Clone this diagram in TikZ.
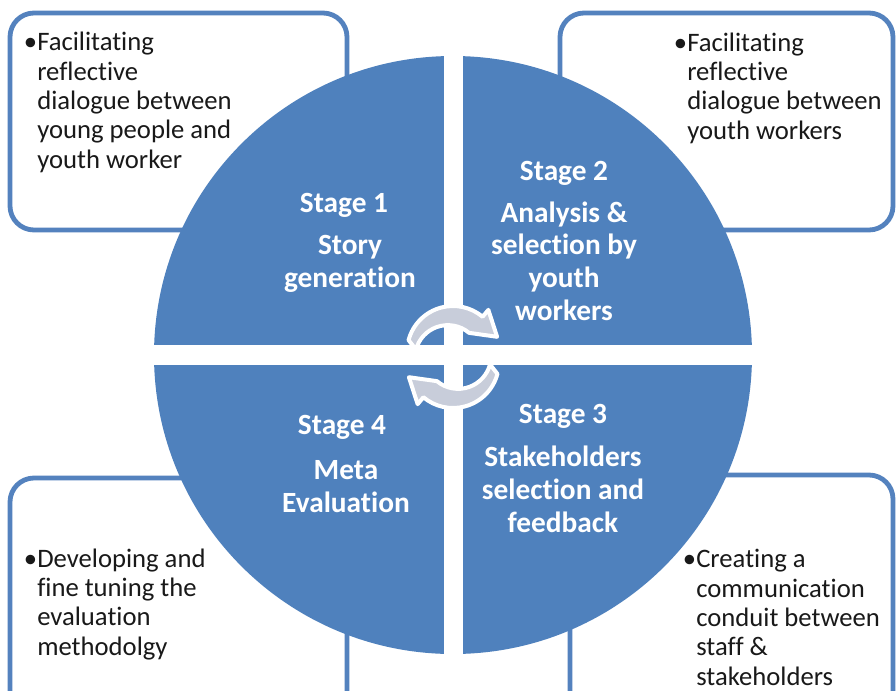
\documentclass[tikz,border=0pt]{standalone}
\usepackage{fontspec}
\setmainfont{Carlito}[Ligatures=NoCommon]
\usetikzlibrary{calc}
\definecolor{qblue}{RGB}{79,129,189}
\definecolor{bblue}{RGB}{84,130,190}
\definecolor{agray}{RGB}{200,205,218}
\definecolor{btext}{RGB}{25,25,25}
\tikzset{
  infobox/.style={draw=bblue, line width=3.6pt, fill=white, rounded corners=18pt},
  infotext/.style={anchor=base west, align=left, inner sep=0pt, text=btext, font=\fontsize{20}{22}\selectfont},
  stagetitle/.style={anchor=base, inner sep=0pt, text=white, font=\fontsize{22}{24.4}\selectfont\bfseries},
  stagebody/.style={anchor=base, align=center, inner sep=0pt, text=white, font=\fontsize{22}{24.4}\selectfont\bfseries},
  cyclearrow/.style={draw=white, line width=3pt, fill=agray, line join=round}
}
\begin{document}
\begin{tikzpicture}[x=0.75pt,y=-0.75pt]
\useasboundingbox (0,0) rectangle (896,690);
\clip (0,0) rectangle (896,690);
\fill[white] (0,0) rectangle (896,690);
% info boxes
\draw[infobox] (10,13) rectangle (347,230);
\draw[infobox] (560,13) rectangle (893,230);
\draw[infobox] (10,478) rectangle (347,720);
\draw[infobox] (570,475) rectangle (893,720);
% circle
\coordinate (c) at (453,355);
\fill[qblue] (c) circle[radius=299];
\fill[white] (443.5,50) rectangle (462.5,660);
\fill[white] (150,345) rectangle (757,365);
% cycle arrows
\coordinate (ct) at (453,352);
\coordinate (cb) at (453,362);
\draw[cyclearrow] ($(ct)+(195:46)$) arc[start angle=195,end angle=310,radius=46]
  -- ($(ct)+(310:55)$) -- ($(ct)+(310:40)+(40:24)$) -- ($(ct)+(310:25)$)
  arc[start angle=310,end angle=195,radius=33] -- cycle;
\draw[cyclearrow] ($(cb)+(15:46)$) arc[start angle=15,end angle=130,radius=46]
  -- ($(cb)+(130:55)$) -- ($(cb)+(130:40)+(220:24)$) -- ($(cb)+(130:25)$)
  arc[start angle=130,end angle=15,radius=33] -- cycle;
% box texts (anchor base = baseline of the last line)
\node[infotext] (t1) at (37,168) {\llap{\textbullet}Facilitating\\reflective\\dialogue between\\young people and\\youth worker};
\node[infotext] (t2) at (687,139) {\llap{\textbullet}Facilitating\\reflective\\dialogue between\\youth workers};
\node[infotext] (t4) at (37,655) {\llap{\textbullet}Developing and\\fine tuning the\\evaluation\\methodolgy};
\node[infotext] (t3) at (696,685) {\llap{\textbullet}Creating a\\communication\\conduit between\\staff \&\\stakeholders};
% stage texts
\node[stagetitle] (s1t) at (344,212) {Stage 1};
\node[stagebody] (s1b) at (350,287) {Story\\generation};
\node[stagetitle] (s2t) at (564,180) {Stage 2};
\node[stagebody] (s2b) at (564,320) {Analysis \&\\selection by\\youth\\workers};
\node[stagetitle] (s3t) at (563,423) {Stage 3};
\node[stagebody] (s3b) at (563,532) {Stakeholders\\selection and\\feedback};
\node[stagetitle] (s4t) at (342,434) {Stage 4};
\node[stagebody] (s4b) at (346,512) {Meta\\Evaluation};
\end{tikzpicture}
\end{document}
